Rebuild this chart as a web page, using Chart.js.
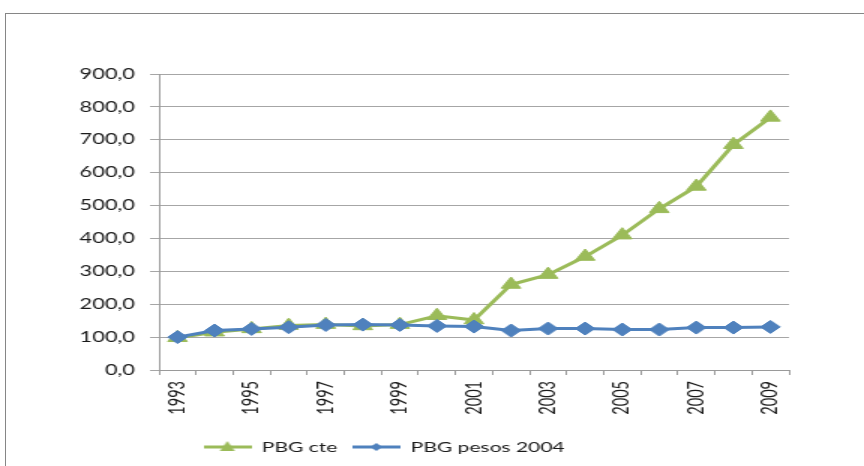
<!DOCTYPE html>
<html>
<head>
<meta charset="utf-8">
<script src="https://cdn.jsdelivr.net/npm/chart.js@4"></script>
<style>
	html, body { margin: 0; padding: 0; background: #ffffff; overflow: hidden; }
	body { width: 864px; height: 466px; position: relative; }
	#frame { position: absolute; left: 5px; top: 13px; width: 900px; height: 500px; border: 1px solid #868686; }
	/* the source picture is stretched sideways, so the chart is drawn narrow and scaled */
	#wrap { position: absolute; left: 0; top: 0; width: 576px; height: 466px; transform: scaleX(1.5); transform-origin: 0 0; }
</style>
</head>
<body>
<div id="frame"></div>
<div id="wrap"><canvas id="chart"></canvas></div>
<script>
const years = ["1993", "1994", "1995", "1996", "1997", "1998", "1999", "2000", "2001",
	"2002", "2003", "2004", "2005", "2006", "2007", "2008", "2009"];
const pbgCte = [98, 115, 125, 135, 138, 134, 138, 165, 152, 260, 290, 345, 410, 490, 558, 685, 768];
const pbgPesos2004 = [100, 120, 125, 130, 137, 138, 137, 134, 132, 120, 126, 126, 123, 123, 129, 129, 131];

const green = "#9BBB59";
const blue = "#4F81BD";

Chart.defaults.font.family = "Lato";
Chart.defaults.font.size = 14;
Chart.defaults.color = "#1a1a1a";

function legendImage(color, marker) {
	const c = document.createElement("canvas");
	c.width = 32;
	c.height = 14;
	const ctx = c.getContext("2d");
	ctx.strokeStyle = color;
	ctx.fillStyle = color;
	ctx.lineWidth = 3;
	ctx.beginPath();
	ctx.moveTo(0, 7);
	ctx.lineTo(32, 7);
	ctx.stroke();
	ctx.beginPath();
	if (marker === "triangle") {
		ctx.moveTo(16, 1);
		ctx.lineTo(21, 11);
		ctx.lineTo(11, 11);
	} else {
		ctx.moveTo(16, 3);
		ctx.lineTo(20, 7);
		ctx.lineTo(16, 11);
		ctx.lineTo(12, 7);
	}
	ctx.closePath();
	ctx.fill();
	return c;
}

const legendImages = [legendImage(green, "triangle"), legendImage(blue, "diamond")];

// the legend sits a little left of the centre of the plot
const legendShift = {
	id: "legendShift",
	afterLayout(chart) {
		chart.legend.left -= 7;
		chart.legend.right -= 7;
	}
};

new Chart(document.getElementById("chart"), {
	type: "line",
	data: {
		labels: years,
		datasets: [
			{
				label: "PBG cte",
				data: pbgCte,
				borderColor: green,
				backgroundColor: green,
				borderWidth: 3,
				pointStyle: "triangle",
				pointRadius: 7.5,
				pointBackgroundColor: green,
				pointBorderColor: green,
				pointBorderWidth: 1,
				tension: 0,
				order: 1
			},
			{
				label: "PBG pesos 2004",
				data: pbgPesos2004,
				borderColor: blue,
				backgroundColor: blue,
				borderWidth: 3,
				pointStyle: "rectRot",
				pointRadius: 6.5,
				pointBackgroundColor: blue,
				pointBorderColor: blue,
				pointBorderWidth: 1,
				tension: 0,
				order: -1
			}
		]
	},
	options: {
		responsive: true,
		maintainAspectRatio: false,
		animation: false,
		layout: { padding: { top: 74, right: 50, bottom: 2, left: 0 } },
		plugins: {
			tooltip: { enabled: false },
			legend: {
				position: "bottom",
				labels: {
					usePointStyle: true,
					pointStyleWidth: 32,
					padding: 10,
					color: "#1a1a1a",
					font: { size: 14 },
					sort: (a, b) => a.datasetIndex - b.datasetIndex,
					generateLabels: chart => Chart.defaults.plugins.legend.labels.generateLabels(chart)
						.map(item => ({ ...item, pointStyle: legendImages[item.datasetIndex] }))
				}
			}
		},
		scales: {
			x: {
				offset: true,
				grid: { drawOnChartArea: false, drawTicks: true, tickLength: 5, offset: true, color: "#9a9a9a" },
				border: { display: true, color: "#9a9a9a" },
				ticks: {
					autoSkip: false,
					maxRotation: 90,
					minRotation: 90,
					padding: 6,
					font: { size: 14.5 },
					callback: function (value, index) { return index % 2 === 0 ? this.getLabelForValue(value) : ""; }
				},
				afterFit: scale => { scale.height = 60; }
			},
			y: {
				min: 0,
				max: 900,
				grid: { color: "#a6a6a6", tickLength: 6, drawTicks: true },
				border: { display: true, color: "#9a9a9a" },
				ticks: {
					stepSize: 100,
					padding: 10,
					font: { size: 14.5 },
					callback: value => value.toFixed(1).replace(".", ",")
				},
				afterFit: scale => { scale.width = 106; }
			}
		}
	},
	plugins: [legendShift]
});
</script>
</body>
</html>
